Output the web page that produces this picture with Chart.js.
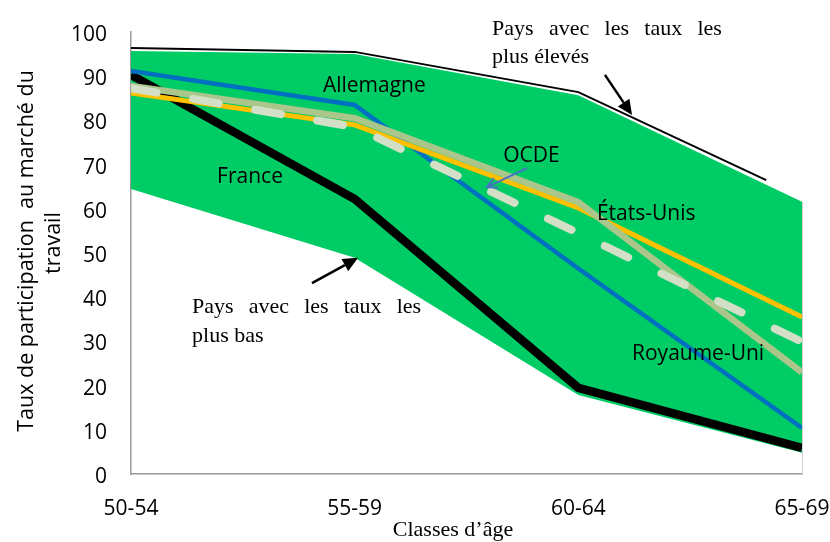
<!DOCTYPE html>
<html><head><meta charset="utf-8">
<script src="https://cdn.jsdelivr.net/npm/chart.js@4.4.1/dist/chart.umd.min.js"></script>
<style>html,body{margin:0;padding:0;background:#fff;}#wrap{width:830px;height:542px;position:relative;}</style>
</head><body><div id="wrap"><canvas id="c"></canvas></div>
<script>
// ---- data ----
const categories = ['50-54', '55-59', '60-64', '65-69'];
const yTicks = [0, 10, 20, 30, 40, 50, 60, 70, 80, 90, 100];
const bandHigh = [95.7, 95.0, 85.7, 61.6];   // pays avec les taux les plus élevés (enveloppe)
const bandLow = [64.5, 48.9, 17.9, 4.8];     // pays avec les taux les plus bas (enveloppe)
const highestLine = [96.4, 95.5, 86.4, 66.5];
const highestLineX = [0, 1, 2, 2.84];
const france = [90.3, 62.2, 19.5, 5.9];
const allemagne = [91.2, 83.5, 46.5, 10.4];
const etatsUnis = [86.2, 79.0, 60.2, 35.5];
const royaumeUni = [87.8, 80.5, 61.5, 23.0];
const ocde = [87.3, 78.5, 54.5, 29.9];

// ---- annotations (data coordinates) ----
const seriesLabels = [
  {text: 'Allemagne', x: 0.858, y: 86.4},
  {text: 'France', x: 0.385, y: 65.8},
  {text: 'OCDE', x: 1.664, y: 70.7},
  {text: 'États-Unis', x: 2.083, y: 57.5},
  {text: 'Royaume-Uni', x: 2.240, y: 25.8}
];
const noteHigh = {lines: [['Pays', 'avec', 'les', 'taux', 'les'], ['plus élevés']], x0: 1.614, x1: 2.642, y: [99.3, 93.0]};
const noteLow = {lines: [['Pays', 'avec', 'les', 'taux', 'les'], ['plus bas']], x0: 0.273, x1: 1.297, y: [36.4, 29.9]};
const arrows = [
  {from: [2.119, 90.3], to: [2.240, 81.2], color: '#000', width: 2.5, head: 'filled'},
  {from: [0.809, 43.2], to: [1.015, 48.9], color: '#000', width: 2.5, head: 'filled'},
  {from: [1.770, 69.2], to: [1.592, 64.9], color: '#4A70C4', width: 2, head: 'open'}
];

const pts = (arr, xs) => arr.map((v, i) => ({x: xs ? xs[i] : i, y: v}));
const SANS = '"Open Sans", "DejaVu Sans", sans-serif';
const SERIF = '"Liberation Serif", "DejaVu Serif", serif';

const annotPlugin = {
  id: 'annot',
  afterDatasetsDraw(chart) {
    const ctx = chart.ctx, xs = chart.scales.x, ys = chart.scales.y, ca = chart.chartArea;
    const px = v => xs.getPixelForValue(v), py = v => ys.getPixelForValue(v);
    ctx.save();
    // thin right frame line
    ctx.strokeStyle = '#d0d0d0'; ctx.lineWidth = 1;
    ctx.beginPath(); ctx.moveTo(ca.right + 0.5, py(bandHigh[3])); ctx.lineTo(ca.right + 0.5, ca.bottom); ctx.stroke();
    // arrows
    arrows.forEach(a => {
      const x0 = px(a.from[0]), y0 = py(a.from[1]), x1 = px(a.to[0]), y1 = py(a.to[1]);
      const ang = Math.atan2(y1 - y0, x1 - x0);
      ctx.strokeStyle = a.color; ctx.fillStyle = a.color; ctx.lineWidth = a.width;
      if (a.head === 'filled') {
        const L = 15, W = 7;
        const bx = x1 - L * Math.cos(ang), by = y1 - L * Math.sin(ang);
        ctx.beginPath(); ctx.moveTo(x0, y0); ctx.lineTo(bx, by); ctx.stroke();
        ctx.beginPath();
        ctx.moveTo(x1, y1);
        ctx.lineTo(bx + W * Math.sin(ang), by - W * Math.cos(ang));
        ctx.lineTo(bx - W * Math.sin(ang), by + W * Math.cos(ang));
        ctx.closePath(); ctx.fill();
      } else {
        ctx.beginPath(); ctx.moveTo(x0, y0); ctx.lineTo(x1, y1); ctx.stroke();
        const L = 11, sp = 0.5;
        ctx.beginPath();
        ctx.moveTo(x1 - L * Math.cos(ang - sp), y1 - L * Math.sin(ang - sp));
        ctx.lineTo(x1, y1);
        ctx.lineTo(x1 - L * Math.cos(ang + sp), y1 - L * Math.sin(ang + sp));
        ctx.stroke();
      }
    });
    // series labels
    ctx.fillStyle = '#000';
    ctx.font = '21px ' + SANS;
    ctx.textAlign = 'left'; ctx.textBaseline = 'alphabetic';
    seriesLabels.forEach(l => ctx.fillText(l.text, px(l.x), py(l.y)));
    // notes (justified serif text)
    ctx.font = '22px ' + SERIF;
    [noteHigh, noteLow].forEach(n => {
      const xL = px(n.x0), xR = px(n.x1);
      n.lines.forEach((words, li) => {
        const y = py(n.y[li]);
        if (words.length > 1) {
          const tot = words.reduce((s, w) => s + ctx.measureText(w).width, 0);
          const gap = (xR - xL - tot) / (words.length - 1);
          let x = xL;
          words.forEach(w => { ctx.fillText(w, x, y); x += ctx.measureText(w).width + gap; });
        } else {
          ctx.fillText(words[0], xL, y);
        }
      });
    });
    // axis titles
    ctx.textAlign = 'center';
    ctx.fillText('Classes d’âge', 453, 536);
    ctx.font = '21.5px ' + SANS;
    ctx.save(); ctx.translate(33, 251); ctx.rotate(-Math.PI / 2);
    ctx.fillText('Taux de participation  au marché du', 0, 0); ctx.restore();
    ctx.save(); ctx.translate(60, 243); ctx.rotate(-Math.PI / 2);
    ctx.fillText('travail', 0, 0); ctx.restore();
    ctx.restore();
  }
};

const lineDs = (label, data, color, width, order, extra) => Object.assign({
  label, data, borderColor: color, borderWidth: width, order,
  pointRadius: 0, tension: 0, fill: false
}, extra || {});

new Chart(document.getElementById('c'), {
  type: 'line',
  data: {
    datasets: [
      lineDs('OCDE', pts(ocde), '#D3DFC6', 8, 1, {borderDash: [26, 37], borderCapStyle: 'round'}),
      lineDs('Royaume-Uni', pts(royaumeUni), '#AAC68A', 6.5, 2),
      lineDs('États-Unis', pts(etatsUnis), '#FFC000', 5, 3),
      lineDs('Allemagne', pts(allemagne), '#0070C0', 4.5, 4),
      lineDs('France', pts(france), '#000000', 8.5, 5),
      lineDs('Pays avec les taux les plus élevés', pts(highestLine, highestLineX), '#000000', 2, 6),
      lineDs('Enveloppe haute', pts(bandHigh), 'rgba(0,0,0,0)', 0, 7, {fill: '+1', backgroundColor: '#00CC66'}),
      lineDs('Enveloppe basse', pts(bandLow), 'rgba(0,0,0,0)', 0, 8)
    ]
  },
  options: {
    responsive: true, maintainAspectRatio: false, animation: false,
    layout: {padding: {top: 32, right: 28, left: 0, bottom: 0}},
    plugins: {legend: {display: false}, tooltip: {enabled: false}},
    scales: {
      x: {
        type: 'linear', min: 0, max: 3,
        grid: {display: false, drawTicks: false},
        border: {color: '#999', width: 1.5},
        ticks: {color: '#000', padding: 22, font: {family: SANS, size: 21}, maxRotation: 0,
          callback: v => categories[v] !== undefined ? categories[v] : ''},
        afterBuildTicks: s => { s.ticks = categories.map((c, i) => ({value: i})); },
        afterFit: s => { s.height = 68; s.paddingLeft = 0; s.paddingRight = 0; }
      },
      y: {
        min: 0, max: 100,
        grid: {display: false, drawTicks: false},
        border: {color: '#999', width: 1.5},
        ticks: {color: '#000', padding: 24, labelOffset: 3, font: {family: SANS, size: 21}},
        afterBuildTicks: s => { s.ticks = yTicks.map(v => ({value: v})); },
        afterFit: s => { s.width = 131; s.paddingTop = 0; s.paddingBottom = 0; }
      }
    }
  },
  plugins: [annotPlugin]
});
</script></body></html>
